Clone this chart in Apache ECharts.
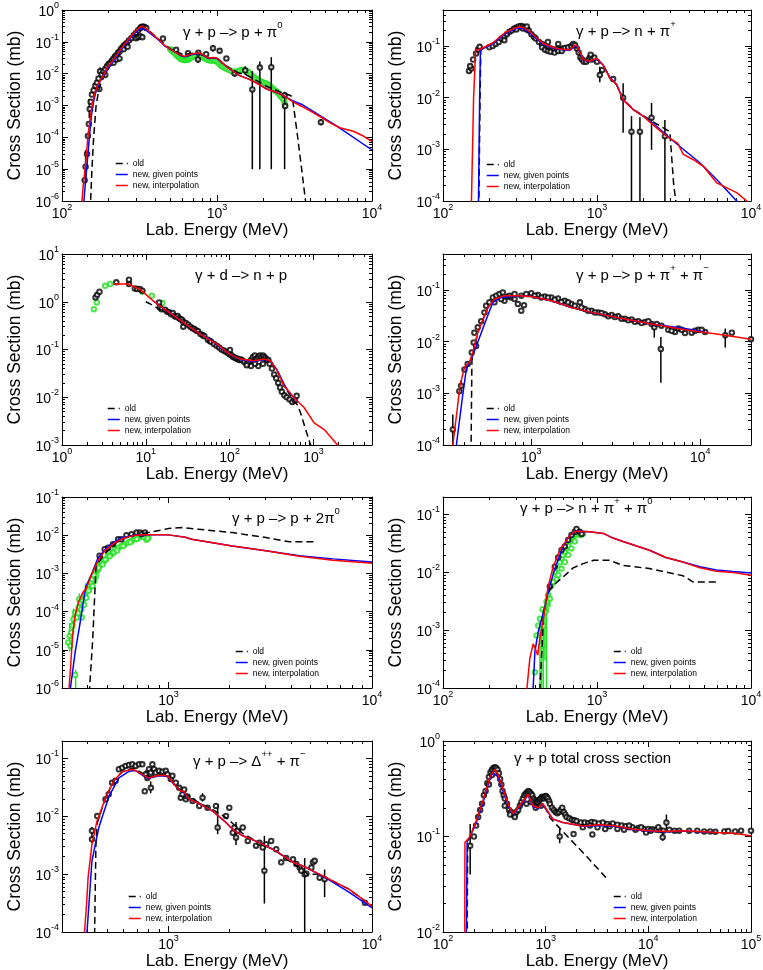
<!DOCTYPE html>
<html><head><meta charset="utf-8">
<script src="https://cdn.jsdelivr.net/npm/echarts@6/dist/echarts.min.js"></script>
<style>html,body{margin:0;padding:0;background:#fff}#c{width:763px;height:970px}</style>
</head><body><div id="c"></div>
<script>
// ---------------- DATA ----------------
// Panel 1: gamma + p -> p + pi0
const p1XTicks=[100,1000,10000];
const p1YTicks=[1e-6,1e-5,1e-4,1e-3,1e-2,1e-1,1];
const p1Old=[[150,1e-7],[153,1e-6],[156,1e-5],[160,1e-4],[166,1e-3],[174,3.7e-3],[190,0.01],[215,0.028],[240,0.06],[265,0.11],[293,0.2],[320,0.29],[335,0.3],[360,0.24],[420,0.12],[500,0.06],[600,0.04],[750,0.045],[900,0.03],[1000,0.032],[1100,0.02],[1300,0.0115],[1543,0.0092],[2077,0.0041],[2532,0.0027],[2950,0.0021],[3050,0.0019],[3100,0.0012],[3300,1.2e-4],[3500,1.2e-5],[3760,7e-7],[3900,1e-7]];
const p1Given=[[137,5e-7],[141,3e-6],[146,2e-5],[150,1e-4],[155,5e-4],[160,1.3e-3],[166,3e-3],[175,5.5e-3],[197,0.014],[215,0.025],[240,0.055],[265,0.1],[293,0.18],[315,0.245],[327,0.265],[345,0.24],[376,0.175],[420,0.115],[459,0.075],[500,0.058],[532,0.049],[575,0.038],[618,0.034],[680,0.039],[752,0.043],[810,0.039],[875,0.03],[950,0.031],[1000,0.03],[1060,0.024],[1150,0.017],[1265,0.012],[1400,0.0087],[1620,0.0066],[1900,0.0044],[2090,0.0033],[2400,0.0026],[2700,0.002],[3090,0.0014],[3500,0.0011],[3980,0.00075],[4730,0.00045],[5900,0.00023],[10000,4e-5]];
const p1Interp=[[133,5e-7],[137,3e-6],[142,1.5e-5],[147,1.1e-4],[152,4e-4],[157,1.1e-3],[162,2.2e-3],[170,4.5e-3],[180,7e-3],[197,0.016],[215,0.028],[240,0.06],[265,0.11],[293,0.2],[315,0.28],[327,0.31],[345,0.27],[376,0.19],[420,0.12],[459,0.077],[500,0.058],[532,0.049],[575,0.039],[618,0.035],[680,0.041],[752,0.045],[810,0.04],[875,0.031],[950,0.032],[1000,0.031],[1060,0.024],[1150,0.017],[1265,0.012],[1400,0.0087],[1620,0.0066],[1900,0.0044],[2090,0.0033],[2400,0.0026],[2700,0.002],[3090,0.0013],[3500,0.00095],[3980,0.00068],[4730,0.00042],[5400,0.00028],[6200,0.0002],[7570,0.000155],[8800,0.00011],[10000,7.4e-5]];
const p1Data=[[140,4.5e-6],[142,1.2e-5],[145,3e-5],[147,1.1e-4],[149,2.6e-4],[151,7.8e-4],[153,1.3e-3],[156,2.2e-3],[160,3e-3],[164,4.2e-3],[168,5.2e-3],[174,3.3e-3],[172,7e-3],[176,0.012],[180,0.0095],[185,0.012],[190,0.014],[195,0.017],[200,0.02],[205,0.022],[210,0.026],[215,0.03],[220,0.035],[225,0.038],[230,0.045],[235,0.05],[240,0.06],[245,0.065],[250,0.075],[255,0.08],[260,0.09],[270,0.11],[280,0.13],[290,0.16],[300,0.19],[310,0.23],[320,0.27],[325,0.29],[330,0.3],[335,0.3],[340,0.29],[350,0.27],[300,0.13],[310,0.14],[320,0.15],[330,0.14],[215,0.022],[225,0.028],[235,0.03],[190,0.009],[250,0.058],[265,0.07],[448,0.127],[545,0.056],[650,0.044],[754,0.028],[758,0.045],[851,0.041],[942,0.063],[1040,0.052],[1150,0.03],[1300,0.0102],[1520,0.0126],[1690,0.0032],[1890,0.0155],[2240,0.016],[2730,0.0021],[2750,9.6e-4],[4680,3e-4]];
const p1Err=[[142,4e-6,4e-5],[150,4e-4,1.6e-3],[176,9e-3,0.016],[754,0.022,0.036],[942,0.05,0.08],[1040,0.043,0.062],[1300,0.008,0.013],[1520,0.009,0.017],[1690,1e-5,0.012],[1890,1e-5,0.024],[2240,1e-5,0.033],[2730,1e-5,0.0027],[4680,2.4e-4,3.8e-4]];
const p1Green=[[500,0.058],[510,0.054],[520,0.05],[530,0.046],[540,0.042],[550,0.038],[560,0.035],[570,0.032],[580,0.03],[590,0.029],[600,0.028],[610,0.027],[620,0.027],[630,0.027],[640,0.027],[650,0.028],[660,0.029],[670,0.031],[680,0.032],[700,0.034],[720,0.036],[740,0.037],[760,0.037],[780,0.036],[800,0.034],[820,0.032],[840,0.03],[860,0.028],[880,0.027],[900,0.026],[920,0.026],[940,0.026],[960,0.026],[980,0.025],[1000,0.024],[1020,0.022],[1040,0.02],[1060,0.018],[1080,0.017],[1100,0.016],[1130,0.015],[1160,0.014],[1200,0.013],[1240,0.012],[1280,0.0115],[1320,0.0115],[1360,0.012],[1400,0.0125],[1440,0.013],[1480,0.013],[1520,0.0128],[1560,0.012],[1600,0.011],[1650,0.0095],[1700,0.0085],[1750,0.0075],[1800,0.0068],[1850,0.0062],[1900,0.0058],[1950,0.0055],[2000,0.0052],[2050,0.005],[2100,0.0047],[2150,0.0043],[2200,0.004],[2250,0.0036],[2300,0.0033],[2350,0.003],[2400,0.0028],[2450,0.0026],[2500,0.0024],[2550,0.0021],[2600,0.0019],[2650,0.0017],[2700,0.0015],[2730,0.0012],[2750,0.001]];

// Panel 2: gamma + p -> n + pi+
const p2XTicks=[100,1000,10000];
const p2YTicks=[1e-4,1e-3,1e-2,1e-1];
const p2Old=[[168,1e-5],[171,1e-4],[174,0.01],[176,0.085],[211,0.114],[258,0.185],[307,0.23],[366,0.185],[447,0.11],[545,0.089],[666,0.083],[717,0.102],[813,0.055],[898,0.05],[993,0.057],[1096,0.043],[1211,0.024],[1339,0.018],[1480,0.0092],[1718,0.006],[1995,0.0045],[2437,0.0031],[2970,0.0022],[3000,0.0015],[3150,2e-4],[3250,1e-4],[3300,5e-5]];
const p2Given=[[165,1e-5],[170,1e-4],[173,0.01],[175,0.084],[211,0.112],[258,0.18],[307,0.225],[330,0.22],[366,0.18],[447,0.108],[545,0.088],[666,0.082],[717,0.1],[745,0.097],[813,0.054],[898,0.05],[993,0.056],[1096,0.043],[1211,0.025],[1339,0.018],[1480,0.0091],[1718,0.0059],[1995,0.0044],[2437,0.0028],[3126,0.00145],[4650,0.00055],[5985,0.00026],[8070,1e-4],[8500,7e-5]];
const p2Interp=[[150,1e-5],[153,1e-4],[158,0.01],[163,0.084],[173,0.086],[211,0.116],[258,0.19],[307,0.236],[330,0.23],[366,0.19],[447,0.112],[545,0.09],[666,0.084],[717,0.105],[745,0.1],[813,0.055],[898,0.051],[993,0.058],[1096,0.043],[1211,0.024],[1339,0.018],[1480,0.0091],[1718,0.0059],[1995,0.0044],[2437,0.0026],[2900,0.0017],[3350,0.0013],[3634,0.0008],[4220,0.00063],[4900,0.00047],[5985,0.000225],[8070,0.000145],[9380,1e-4],[10000,7e-5]];
const p2Data=[[147.5,0.033],[153,0.037],[150,0.041],[157,0.055],[164,0.072],[169,0.086],[173,0.097],[200,0.095],[210,0.1],[220,0.11],[230,0.12],[240,0.14],[250,0.15],[260,0.17],[270,0.19],[280,0.2],[290,0.22],[300,0.23],[310,0.24],[320,0.245],[330,0.24],[340,0.23],[350,0.21],[360,0.2],[375,0.17],[390,0.15],[400,0.14],[420,0.12],[440,0.11],[460,0.1],[480,0.095],[500,0.09],[520,0.085],[550,0.088],[580,0.085],[600,0.09],[620,0.092],[650,0.095],[680,0.1],[700,0.11],[720,0.105],[740,0.09],[760,0.075],[780,0.06],[800,0.055],[820,0.05],[850,0.05],[880,0.055],[900,0.06],[930,0.055],[960,0.06],[1000,0.05],[440,0.095],[460,0.085],[480,0.08],[500,0.078],[530,0.075],[560,0.08],[590,0.08],[250,0.13],[300,0.21],[330,0.22],[350,0.24],[560,0.11],[480,0.12],[910,0.068],[1043,0.0276],[1081,0.0345],[1273,0.023],[1478,0.01],[1675,0.0022],[1900,0.0022],[2260,0.0041],[2760,0.0018]];
const p2Err=[[150,0.03,0.045],[1043,0.02,0.04],[1478,0.0021,0.019],[1675,1e-5,0.0044],[1900,1e-5,0.0042],[2260,0.00098,0.0079],[2760,1e-5,0.0037]];

// Panel 3: gamma + d -> n + p
const p3XTicks=[1,10,100,1000];
const p3YTicks=[1e-3,1e-2,1e-1,1,10];
const p3Old=[[10,1.0],[12,0.85],[14.4,0.7],[17.7,0.63],[20,0.55],[28,0.37],[44.5,0.21],[70.5,0.13],[100,0.08],[134,0.063],[194,0.058],[256,0.063],[307,0.058],[370,0.036],[445,0.0173],[520,0.0115],[586,0.0085],[650,0.0068],[705,0.0046],[760,0.003],[808,0.0021],[870,0.0014],[925,0.001],[960,7e-4]];
const p3Given=[[12.2,1.05],[17.7,0.65],[28,0.37],[44.5,0.21],[60,0.16],[70.5,0.125],[100,0.08],[134,0.062],[194,0.056],[256,0.062],[307,0.058],[370,0.037],[445,0.019],[500,0.0135],[586,0.0098],[650,0.008]];
const p3Interp=[[4.06,2.35],[6.14,2.35],[8.47,1.84],[12.2,1.05],[17.7,0.65],[28,0.37],[44.5,0.21],[70.5,0.13],[100,0.08],[134,0.063],[194,0.058],[256,0.063],[307,0.058],[370,0.036],[445,0.0173],[586,0.0098],[773,0.0061],[1019,0.0029],[1343,0.0021],[1941,0.001],[2300,7e-4]];
const p3Data=[[2.51,1.23],[2.63,1.4],[2.8,1.62],[4.45,2.55],[6.3,2.34],[6.3,2.9],[7.4,1.9],[7.9,1.84],[8.5,1.84],[9.1,1.7],[14.4,0.97],[14.7,0.76],[15.4,0.7],[17,0.68],[18,0.62],[19,0.6],[20,0.55],[21,0.58],[22,0.5],[23,0.48],[24,0.5],[25,0.45],[26,0.43],[27,0.42],[28,0.38],[28,0.3],[30,0.36],[32,0.33],[34,0.3],[36,0.28],[38,0.27],[40,0.25],[42,0.24],[45,0.21],[48,0.2],[50,0.19],[55,0.16],[58,0.15],[60,0.145],[65,0.13],[70,0.12],[75,0.11],[80,0.1],[85,0.095],[90,0.09],[95,0.085],[100,0.08],[101,0.098],[105,0.076],[110,0.07],[115,0.068],[120,0.065],[125,0.064],[130,0.06],[135,0.062],[140,0.06],[150,0.055],[160,0.05],[170,0.055],[180,0.06],[190,0.07],[200,0.075],[210,0.065],[220,0.07],[230,0.075],[240,0.07],[250,0.075],[260,0.07],[270,0.065],[280,0.06],[290,0.06],[300,0.05],[320,0.04],[340,0.03],[360,0.025],[380,0.02],[400,0.016],[420,0.013],[450,0.011],[480,0.01],[520,0.009],[560,0.008],[600,0.0085],[631,0.0107],[220,0.045],[250,0.05],[200,0.05],[180,0.045],[160,0.047]];
const p3Err=[[14.7,0.65,0.95],[6.3,2.1,2.7]];
const p3Green=[[2.4,0.7],[2.6,0.97],[3.28,2.16],[3.76,2.34],[9.04,1.62],[11.8,1.33],[15.8,0.94]];

// Panel 4: gamma + p -> p + pi+ + pi-
const p4XTicks=[1000,10000];
const p4YTicks=[1e-4,1e-3,1e-2,1e-1];
const p4Old=[[435,1e-5],[440,1e-4],[445,4.3e-3],[460,7.5e-3],[482,0.015],[518,0.027],[553,0.046],[605,0.067],[694,0.078],[833,0.078],[1000,0.075],[1316,0.062],[1728,0.046],[2270,0.037],[3270,0.029],[5156,0.022],[8130,0.017],[10000,0.0155]];
const p4Given=[[355,1e-5],[360,1e-4],[392,8.9e-4],[412,2.9e-3],[450,5.4e-3],[493,0.012],[541,0.027],[592,0.058],[663,0.072],[833,0.078],[1000,0.075],[1316,0.062],[1728,0.046],[2270,0.037],[3270,0.029],[5156,0.022],[8130,0.018],[10700,0.0155]];
const p4Interp=[[338,1e-5],[343,1e-4],[360,3.6e-4],[378,1.4e-3],[402,3.2e-3],[430,4e-3],[450,6.2e-3],[482,0.015],[518,0.027],[553,0.046],[605,0.067],[694,0.078],[833,0.078],[1000,0.075],[1316,0.062],[1728,0.046],[2270,0.037],[3270,0.029],[5156,0.022],[8130,0.017],[12800,0.014],[20000,0.0112]];
const p4Data=[[343,2e-4],[375,1.1e-3],[384,1.4e-3],[402,2.9e-3],[420,3.7e-3],[444,6.2e-3],[456,9.7e-3],[460,0.015],[471,8.3e-3],[482,0.019],[505,0.025],[528,0.037],[540,0.05],[565,0.058],[592,0.072],[620,0.078],[648,0.084],[678,0.09],[694,0.062],[727,0.075],[760,0.072],[796,0.067],[833,0.054],[872,0.04],[905,0.051],[934,0.084],[1000,0.087],[1095,0.08],[1200,0.075],[1315,0.072],[1440,0.069],[1578,0.062],[1728,0.054],[1940,0.058],[2073,0.043],[2273,0.04],[2490,0.037],[2728,0.034],[2990,0.033],[3270,0.031],[3587,0.028],[3929,0.027],[4304,0.025],[4716,0.024],[5156,0.022],[5350,0.019],[5905,0.0204],[6475,0.017],[7096,0.0155],[7430,0.018],[8130,0.0147],[8900,0.015],[9750,0.017],[10700,0.0155],[14080,0.0134],[15400,0.015],[20000,0.0112],[5850,7.2e-3],[605,0.058],[663,0.067],[744,0.078],[796,0.084],[872,0.078],[1047,0.078],[1146,0.072],[1256,0.072],[1376,0.065],[1508,0.059],[1651,0.058],[1809,0.05],[1982,0.046],[2171,0.04],[2380,0.037],[2604,0.036],[2855,0.031],[3127,0.03],[3420,0.028],[3750,0.026],[4105,0.0243],[4500,0.023],[4930,0.025],[5530,0.022],[6780,0.0163],[7770,0.017],[9310,0.0163],[10200,0.017]];
const p4Err=[[343,1e-5,3.9e-4],[384,1.1e-3,1.8e-3],[5350,0.012,0.019],[5850,1.6e-3,0.0124],[14080,7.7e-3,0.018]];

// Panel 5: gamma + p -> p + 2pi0
const p5XTicks=[1000,10000];
const p5YTicks=[1e-6,1e-5,1e-4,1e-3,1e-2,1e-1];
const p5Old=[[405,1e-7],[410,1e-6],[425,2e-5],[433,1.9e-4],[441,1.6e-3],[486,3.2e-3],[566,7.1e-3],[659,9.9e-3],[796,0.0117],[1000,0.0149],[1164,0.0158],[1408,0.0143],[2058,0.0117],[3010,0.0087],[3930,0.0067],[5310,0.0067]];
const p5Given=[[325,1e-7],[330,1e-6],[348,8.5e-6],[368,5e-5],[386,2.6e-4],[392,4.3e-4],[416,8.6e-4],[450,2.5e-3],[505,5.2e-3],[587,8.6e-3],[684,1e-2],[796,1.02e-2],[1000,1.02e-2],[1210,8.8e-3],[1300,7.8e-3],[2058,5.2e-3],[3010,3.9e-3],[4400,2.9e-3],[6430,2.4e-3],[10000,2e-3]];
const p5Interp=[[320,1e-7],[325,1e-6],[330,3e-6],[338,2.4e-5],[348,8e-5],[362,1.8e-4],[380,3.2e-4],[394,3.9e-4],[416,8.6e-4],[450,2.1e-3],[486,3.9e-3],[545,6.4e-3],[610,8.6e-3],[684,9.9e-3],[796,1.02e-2],[1000,1.02e-2],[1210,8.8e-3],[1300,7.8e-3],[2058,5.2e-3],[3010,3.9e-3],[4400,2.8e-3],[6430,2.2e-3],[10000,1.85e-3]];
const p5Data=[[459,2.9e-3],[486,4.3e-3],[505,4.7e-3],[534,5.8e-3],[566,7.8e-3],[587,7.8e-3],[622,0.01],[659,0.0106],[697,0.0117],[725,0.0117],[739,0.0106],[767,0.0117]];
const p5Green=[[322,1.56e-5],[327,2.3e-5],[330,1.27e-5],[333,2.85e-5],[338,4.3e-5],[342,6.3e-5],[348,9.5e-5],[355,7e-5],[362,1.3e-4],[365,2.1e-4],[368,1.7e-4],[373,1.15e-4],[380,1.9e-4],[388,2.6e-4],[394,3.2e-4],[401,4.7e-4],[408,3.9e-4],[416,5.8e-4],[424,4.7e-4],[433,6.4e-4],[441,8.6e-4],[446,1.15e-3],[450,1.28e-3],[459,1.6e-3],[468,1.9e-3],[482,2.1e-3],[495,2.37e-3],[505,2.9e-3],[524,3.2e-3],[534,3.5e-3],[545,4.3e-3],[566,4.7e-3],[587,5.2e-3],[610,5.8e-3],[634,6.4e-3],[659,7.1e-3],[684,7.8e-3],[711,8.6e-3],[739,9.6e-3],[767,9.2e-3],[796,8.6e-3],[348,2.2e-6],[780,7.6e-3],[790,8.3e-3],[360,9e-5],[375,7e-5],[385,1.5e-4],[395,2.3e-4],[405,3.5e-4],[420,7e-4],[430,9e-4],[440,1.2e-3],[455,1.4e-3],[475,1.7e-3],[490,2.3e-3],[515,2.8e-3],[540,3.6e-3],[560,4e-3],[600,5.2e-3],[650,6.5e-3],[700,8e-3],[750,9e-3]];
const p5GreenErr=[[327,9e-6,5e-5],[338,1.5e-5,8e-5],[342,3e-5,1.2e-4],[350,1e-7,3e-6],[365,8e-5,3e-4]];

// Panel 6: gamma + p -> n + pi+ + pi0
const p6XTicks=[100,1000,10000];
const p6YTicks=[1e-4,1e-3,1e-2,1e-1];
const p6Old=[[420,1e-5],[426,1e-4],[440,5.4e-4],[448,1.6e-3],[459,2.7e-3],[481,4.5e-3],[519,5.9e-3],[603,8.3e-3],[700,0.0119],[813,0.0141],[950,0.0161],[1209,0.0161],[1475,0.0131],[2190,0.0116],[3620,0.0087],[4200,0.0068],[5960,0.0068]];
const p6Given=[[380,1e-5],[385,1e-4],[395,4.2e-4],[415,9.3e-4],[448,2e-3],[494,5.9e-3],[546,0.014],[603,0.028],[666,0.044],[736,0.051],[896,0.05],[1100,0.047],[1270,0.039],[1475,0.034],[2190,0.024],[2800,0.018],[3620,0.015],[4650,0.0125],[5960,0.011],[7640,0.0103],[10000,0.0097]];
const p6Interp=[[345,1e-5],[351,1e-4],[366,3.2e-4],[385,5.8e-4],[400,4.6e-4],[412,3.7e-4],[425,7e-4],[448,1.5e-3],[481,5.6e-3],[519,0.0125],[574,0.024],[634,0.036],[683,0.047],[736,0.051],[896,0.05],[1100,0.047],[1270,0.039],[1475,0.034],[2190,0.024],[2800,0.018],[3620,0.015],[4650,0.012],[5960,0.0104],[7640,0.0099],[10000,0.0089]];
const p6Data=[[494,5.7e-3],[532,0.0125],[560,0.018],[588,0.024],[618,0.028],[650,0.036],[683,0.044],[718,0.05],[736,0.056],[773,0.05],[795,0.046]];
const p6Green=[[395,1.87e-4],[405,8.1e-4],[415,1.2e-3],[426,1.57e-3],[437,5.4e-4],[443,2.3e-3],[448,1.2e-3],[459,2.06e-3],[470,3.1e-3],[481,4e-3],[494,3.5e-3],[506,5.9e-3],[519,6.8e-3],[532,0.01],[546,7.7e-3],[560,0.0116],[574,0.015],[588,0.0173],[603,0.0198],[618,0.0225],[634,0.0258],[650,0.029],[666,0.034],[683,0.038],[700,0.041],[718,0.044],[736,0.047],[754,0.05],[773,0.044],[793,0.045],[813,0.047],[718,0.034],[683,0.0258],[650,0.0198],[618,0.015],[588,0.0116],[560,0.009]];
const p6GreenErr=[[426,1e-5,1.6e-3],[437,1e-5,1.2e-3],[448,1e-5,2.3e-3],[459,3e-4,2e-3],[470,1e-4,3e-3],[481,2e-3,6e-3],[494,2.5e-3,5e-3]];

// Panel 7: gamma + p -> Delta++ + pi-
const p7XTicks=[1000,10000];
const p7YTicks=[1e-4,1e-3,1e-2,1e-1];
const p7Old=[[430,1e-5],[434,1e-4],[440,3e-3],[446,7.5e-3],[491,0.021],[539,0.041],[593,0.059],[664,0.068],[717,0.06],[795,0.048],[899,0.052],[988,0.05],[1087,0.033],[1190,0.026],[1417,0.017],[1650,0.013],[1918,0.0095],[2070,0.0075],[2320,0.005],[2800,0.0035],[3385,0.0025],[4000,0.0016],[4600,0.0012],[4800,0.001],[5500,0.001],[6000,0.00085],[7700,0.00055],[10000,0.00028]];
const p7Given=[[393,1e-5],[398,1e-4],[421,1.7e-3],[455,6.4e-3],[510,0.022],[571,0.046],[640,0.06],[690,0.062],[717,0.056],[795,0.045],[899,0.05],[988,0.049],[1087,0.033],[1150,0.027],[1190,0.026],[1265,0.0196],[1417,0.0166],[1650,0.0123],[1918,0.0078],[2070,0.0059],[2320,0.0046],[2802,0.0035],[3385,0.0025],[4092,0.0016],[4758,0.0013],[5963,0.00085],[7700,0.00049],[10000,0.00026]];
const p7Interp=[[383,1e-5],[387,1e-4],[396,3e-4],[403,8.7e-4],[421,3.3e-3],[446,8.3e-3],[491,0.021],[539,0.041],[593,0.059],[664,0.065],[717,0.057],[795,0.046],[899,0.051],[988,0.05],[1087,0.033],[1150,0.027],[1190,0.027],[1265,0.0196],[1417,0.0166],[1650,0.0123],[1918,0.0078],[2070,0.0059],[2320,0.0046],[2802,0.0035],[3385,0.0025],[4092,0.0016],[4758,0.0013],[5963,0.00087],[7700,0.00055],[10000,0.00028]];
const p7Data=[[421,5.6e-3],[421,4e-3],[447,0.0101],[491,0.0196],[509,0.024],[529,0.038],[550,0.041],[571,0.065],[593,0.069],[616,0.074],[640,0.077],[664,0.079],[690,0.074],[717,0.079],[744,0.079],[765,0.027],[773,0.053],[788,0.046],[803,0.065],[818,0.057],[820,0.031],[834,0.079],[850,0.065],[866,0.057],[899,0.061],[934,0.059],[970,0.061],[989,0.053],[1027,0.044],[1046,0.05],[1087,0.038],[1129,0.031],[1150,0.021],[1172,0.024],[1195,0.029],[1218,0.0196],[1241,0.022],[1314,0.0184],[1417,0.0151],[1471,0.021],[1557,0.0141],[1712,0.0151],[1745,0.0064],[1918,0.0101],[1990,0.0141],[2070,0.0052],[2110,0.0064],[2148,0.0043],[2190,0.0056],[2318,0.0064],[2453,0.00375],[2694,0.0031],[2800,0.0035],[2907,0.0029],[2960,0.00115],[3021,0.0033],[3196,0.00375],[3385,0.0027],[3580,0.0016],[3790,0.0019],[4092,0.0018],[4250,0.0015],[4412,0.0013],[4495,0.00115],[4670,0.001],[4760,0.00102],[5040,0.0013],[5130,0.0016],[5230,0.0017],[5530,0.00087],[5850,0.00082],[9230,0.00032]];
const p7Err=[[421,3.5e-3,6.5e-3],[773,0.045,0.062],[818,0.025,0.04],[1471,0.018,0.025],[1745,0.0049,0.016],[2148,0.0032,0.008],[2960,0.00031,0.0046],[4670,1e-5,0.0019],[5850,0.0004,0.0012]];

// Panel 8: gamma + p total cross section
const p8XTicks=[100,1000,10000,100000];
const p8YTicks=[1e-2,1e-1,1];
const p8Old=[[170,1e-3],[172,0.01],[174,0.09],[182,0.098],[211,0.146],[245,0.236],[285,0.414],[319,0.505],[343,0.449],[399,0.277],[446,0.2],[481,0.174],[558,0.21],[673,0.277],[698,0.266],[753,0.21],[840,0.2],[941,0.22],[1013,0.194],[1093,0.158],[1300,0.13],[1500,0.11],[2000,0.08],[2500,0.062],[3000,0.05],[3855,0.0373]];
const p8Given=[[168,1e-3],[169,0.01],[172,0.09],[182,0.098],[211,0.14],[245,0.225],[285,0.4],[307,0.467],[319,0.48],[343,0.42],[399,0.265],[446,0.195],[481,0.172],[558,0.205],[673,0.27],[698,0.26],[753,0.205],[840,0.198],[941,0.215],[1013,0.19],[1175,0.152],[1473,0.14],[2306,0.128],[3350,0.13],[4870,0.127],[7070,0.118],[10270,0.114],[14900,0.112],[21700,0.114],[31500,0.112],[45800,0.11]];
const p8Interp=[[162,1e-3],[163,0.01],[163.5,0.087],[182,0.098],[211,0.146],[245,0.236],[285,0.414],[319,0.505],[343,0.449],[399,0.277],[446,0.2],[481,0.174],[558,0.21],[673,0.277],[698,0.266],[753,0.21],[840,0.2],[941,0.22],[1013,0.194],[1175,0.152],[1473,0.14],[2306,0.129],[3350,0.133],[4870,0.129],[7070,0.119],[10270,0.115],[14900,0.113],[21700,0.115],[31500,0.113],[45800,0.11],[66500,0.108],[100000,0.102]];
const p8Data=[[184,0.08],[200,0.1],[210,0.13],[220,0.16],[230,0.19],[240,0.22],[250,0.27],[260,0.3],[270,0.36],[280,0.42],[290,0.47],[300,0.5],[310,0.52],[320,0.53],[330,0.52],[340,0.5],[350,0.46],[360,0.4],[370,0.35],[380,0.3],[390,0.27],[400,0.25],[420,0.22],[440,0.19],[460,0.18],[480,0.17],[500,0.17],[520,0.18],[540,0.19],[560,0.21],[580,0.23],[600,0.25],[620,0.27],[640,0.28],[660,0.29],[680,0.3],[700,0.29],[720,0.28],[740,0.27],[760,0.25],[780,0.24],[800,0.23],[820,0.225],[840,0.23],[860,0.24],[880,0.245],[900,0.25],[920,0.26],[940,0.255],[960,0.25],[980,0.26],[1000,0.265],[1020,0.26],[1050,0.25],[1080,0.235],[1100,0.22],[1150,0.2],[1200,0.19],[1250,0.18],[1300,0.175],[1350,0.18],[1400,0.19],[1450,0.2],[1500,0.18],[1550,0.17],[1600,0.16],[1700,0.155],[1800,0.15],[1900,0.148],[2000,0.145],[2200,0.14],[2400,0.14],[2600,0.138],[2800,0.142],[3000,0.14],[3300,0.137],[3600,0.14],[4000,0.135],[4500,0.137],[5000,0.133],[5500,0.13],[6000,0.128],[6500,0.125],[7000,0.125],[8000,0.123],[9000,0.12],[10000,0.12],[11000,0.119],[12000,0.118],[13000,0.117],[15000,0.14],[16000,0.118],[18000,0.115],[20000,0.115],[25000,0.115],[30000,0.115],[35000,0.113],[40000,0.113],[45000,0.112],[55000,0.113],[60000,0.114],[70000,0.113],[80000,0.115],[100000,0.115],[1370,0.1],[1870,0.106],[2850,0.105],[13800,0.098],[300,0.44],[280,0.35],[400,0.21],[450,0.17],[500,0.16],[650,0.22],[720,0.23],[800,0.2],[900,0.21],[2300,0.125],[2700,0.13],[3200,0.125],[3800,0.12],[4200,0.128],[5000,0.12],[5800,0.118],[6500,0.13],[7500,0.118],[8500,0.125],[9500,0.11],[10500,0.115],[12500,0.125],[14000,0.115]];
const p8Err=[[184,0.04,0.135],[1370,0.085,0.12],[13800,0.09,0.11],[15000,0.12,0.17]];

// ---------------- LAYOUT / STYLE ----------------
const FONT='Liberation Sans';
const RED='#ff0000', BLUE='#0000ff', GREEN='#22e022';
const LEG=['old','new, given points','new, interpolation'];
const L={l:62,w:310}, R={l:443,w:308};
const rowTop=[10,254,497,741], H=191;
const panels=[
 {c:L,r:0,x:[100,10000],y:[1e-6,1],xt:p1XTicks,yt:p1YTicks,title:'{a|γ + p –> p + π}{s|0}',tp:[183,20],lg:[115,159],old:p1Old,given:p1Given,interp:p1Interp,pts:p1Data,err:p1Err,green:p1Green},
 {c:R,r:0,x:[100,10000],y:[1e-4,0.5],xt:p2XTicks,yt:p2YTicks,title:'{a|γ + p –> n + π}{s|+}',tp:[576,19],lg:[486,160],old:p2Old,given:p2Given,interp:p2Interp,pts:p2Data,err:p2Err},
 {c:L,r:1,x:[1,5000],y:[1e-3,10],xt:p3XTicks,yt:p3YTicks,title:'{a|γ + d –> n + p}',tp:[195,263],lg:[107,404],old:p3Old,given:p3Given,interp:p3Interp,pts:p3Data,err:p3Err,green:p3Green},
 {c:R,r:1,x:[300,20000],y:[1e-4,0.5],xt:p4XTicks,yt:p4YTicks,title:'{a|γ + p –> p + π}{s|+}{a| + π}{s|−}',tp:[576,263],lg:[486,404],old:p4Old,given:p4Given,interp:p4Interp,pts:p4Data,err:p4Err},
 {c:L,r:2,x:[300,10000],y:[1e-6,0.1],xt:p5XTicks,yt:p5YTicks,title:'{a|γ + p –> p + 2π}{s|0}',tp:[232,506],lg:[235,647],old:p5Old,given:p5Given,interp:p5Interp,pts:p5Data,green:p5Green,gerr:p5GreenErr},
 {c:R,r:2,x:[100,10000],y:[1e-4,0.2],xt:p6XTicks,yt:p6YTicks,title:'{a|γ + p –> n + π}{s|+}{a| + π}{s|0}',tp:[520,496],lg:[613,647],old:p6Old,given:p6Given,interp:p6Interp,pts:p6Data,green:p6Green,gerr:p6GreenErr},
 {c:L,r:3,x:[300,10000],y:[1e-4,0.2],xt:p7XTicks,yt:p7YTicks,title:'{a|γ + p –> Δ}{s|++}{a| + π}{s|−}',tp:[193,749],lg:[128,892],old:p7Old,given:p7Given,interp:p7Interp,pts:p7Data,err:p7Err},
 {c:R,r:3,x:[100,100000],y:[1e-2,1],xt:p8XTicks,yt:p8YTicks,title:'{a|γ + p total cross section}',tp:[514,746],lg:[613,892],old:p8Old,given:p8Given,interp:p8Interp,pts:p8Data,err:p8Err}
];

function minorTicks(ticks,min,max){
  const out=[];
  const e0=Math.floor(Math.log10(min))-1, e1=Math.ceil(Math.log10(max));
  for(let e=e0;e<=e1;e++){ for(let k=2;k<=9;k++){ const v=k*Math.pow(10,e); if(v>min*1.0001&&v<max*0.9999) out.push(v);} }
  return out;
}
function powLabel(v){ const e=Math.round(Math.log10(v)); return '{b|10}{s|'+(e<0?'-'+(-e):String(e))+'}'; }
const labelRich={
  b:{fontSize:14,fontFamily:FONT,color:'#000',verticalAlign:'bottom',lineHeight:18},
  s:{fontSize:9,fontFamily:FONT,color:'#000',verticalAlign:'top',lineHeight:18}
};
const titleRich={
  a:{fontSize:15,fontFamily:FONT,fontWeight:'normal',color:'#000',verticalAlign:'bottom',lineHeight:20},
  s:{fontSize:9.5,fontFamily:FONT,fontWeight:'normal',color:'#000',verticalAlign:'top',lineHeight:20}
};
function errSeries(arr,color,i,z){
  return {type:'custom',xAxisIndex:4*i,yAxisIndex:4*i,clip:true,silent:true,z:z,data:arr,encode:{x:0,y:[1,2]},
    renderItem:function(params,api){
      const x=api.value(0),lo=api.value(1),hi=api.value(2);
      const a=api.coord([x,lo]), b=api.coord([x,hi]);
      return {type:'line',shape:{x1:a[0],y1:a[1],x2:b[0],y2:b[1]},style:{stroke:color,lineWidth:1.5}};
    }};
}

const grid=[],xAxis=[],yAxis=[],series=[],title=[],legend=[];
panels.forEach(function(p,i){
  grid.push({left:p.c.l,width:p.c.w,top:rowTop[p.r],height:H,containLabel:false,outerBoundsMode:'none'});
  const xm=minorTicks(p.xt,p.x[0],p.x[1]), ym=minorTicks(p.yt,p.y[0],p.y[1]);
  function base(r,pos,showLine){
    return {type:'log',logBase:10,min:r[0],max:r[1],gridIndex:i,position:pos,splitLine:{show:false},
      axisLine:{show:showLine,onZero:false,lineStyle:{color:'#000',width:1}}};
  }
  function tick(vals,len){ return {show:true,inside:true,length:len,customValues:vals,lineStyle:{color:'#000',width:1}}; }
  xAxis.push(Object.assign(base(p.x,'bottom',true),{axisTick:tick(p.xt,6),
    axisLabel:{show:true,customValues:p.xt,formatter:powLabel,margin:2,rich:labelRich},
    name:'Lab. Energy (MeV)',nameLocation:'middle',nameGap:17,nameTextStyle:{fontSize:17,fontFamily:FONT,color:'#000'}}));
  xAxis.push(Object.assign(base(p.x,'bottom',false),{axisTick:tick(xm,3),axisLabel:{show:false}}));
  xAxis.push(Object.assign(base(p.x,'top',true),{axisTick:tick(p.xt,6),axisLabel:{show:false}}));
  xAxis.push(Object.assign(base(p.x,'top',false),{axisTick:tick(xm,3),axisLabel:{show:false}}));
  yAxis.push(Object.assign(base(p.y,'left',true),{axisTick:tick(p.yt,6),
    axisLabel:{show:true,customValues:p.yt,formatter:powLabel,margin:3,rich:labelRich},
    name:'Cross Section (mb)',nameLocation:'middle',nameGap:38,nameRotate:90,nameTextStyle:{fontSize:17.5,fontFamily:FONT,color:'#000'}}));
  yAxis.push(Object.assign(base(p.y,'left',false),{axisTick:tick(ym,3),axisLabel:{show:false}}));
  yAxis.push(Object.assign(base(p.y,'right',true),{axisTick:tick(p.yt,6),axisLabel:{show:false}}));
  yAxis.push(Object.assign(base(p.y,'right',false),{axisTick:tick(ym,3),axisLabel:{show:false}}));

  const xi=4*i, yi=4*i;
  if(p.gerr) series.push(errSeries(p.gerr,GREEN,i,1));
  if(p.green) series.push({type:'scatter',name:'green data',xAxisIndex:xi,yAxisIndex:yi,data:p.green,symbol:'emptyCircle',symbolSize:4.5,
    itemStyle:{color:GREEN,borderColor:GREEN,borderWidth:0.9},z:2,silent:true,clip:true});
  if(p.err) series.push(errSeries(p.err,'#000',i,3));
  if(p.pts) series.push({type:'scatter',name:'data',xAxisIndex:xi,yAxisIndex:yi,data:p.pts,symbol:'emptyCircle',symbolSize:4.5,
    itemStyle:{color:'#000',borderColor:'#000',borderWidth:0.8},z:3,silent:true,clip:true});
  series.push({type:'line',name:'old',xAxisIndex:xi,yAxisIndex:yi,data:p.old,symbol:'none',showSymbol:false,clip:true,z:4,
    lineStyle:{color:'#000',width:1.5,type:[7,4]},itemStyle:{color:'#000'}});
  series.push({type:'line',name:'new, given points',xAxisIndex:xi,yAxisIndex:yi,data:p.given,symbol:'none',showSymbol:false,clip:true,z:5,
    lineStyle:{color:BLUE,width:1.5},itemStyle:{color:BLUE}});
  series.push({type:'line',name:'new, interpolation',xAxisIndex:xi,yAxisIndex:yi,data:p.interp,symbol:'none',showSymbol:false,clip:true,z:6,
    lineStyle:{color:RED,width:1.5},itemStyle:{color:RED}});

  title.push({text:p.title,left:p.tp[0],top:p.tp[1],padding:0,textStyle:{fontSize:15,fontWeight:'normal',fontFamily:FONT,color:'#000',rich:titleRich}});
  legend.push({data:LEG,left:p.lg[0],top:p.lg[1],orient:'vertical',padding:0,itemWidth:12,itemHeight:8,itemGap:2,selectedMode:false,
    itemStyle:{opacity:0},lineStyle:{width:1.5},
    textStyle:{fontSize:8.5,fontFamily:FONT,color:'#000'}});
});

const chart=echarts.init(document.getElementById('c'),null,{renderer:'canvas'});
chart.setOption({animation:false,backgroundColor:'#fff',grid:grid,xAxis:xAxis,yAxis:yAxis,series:series,title:title,legend:legend});
</script>
</body></html>
